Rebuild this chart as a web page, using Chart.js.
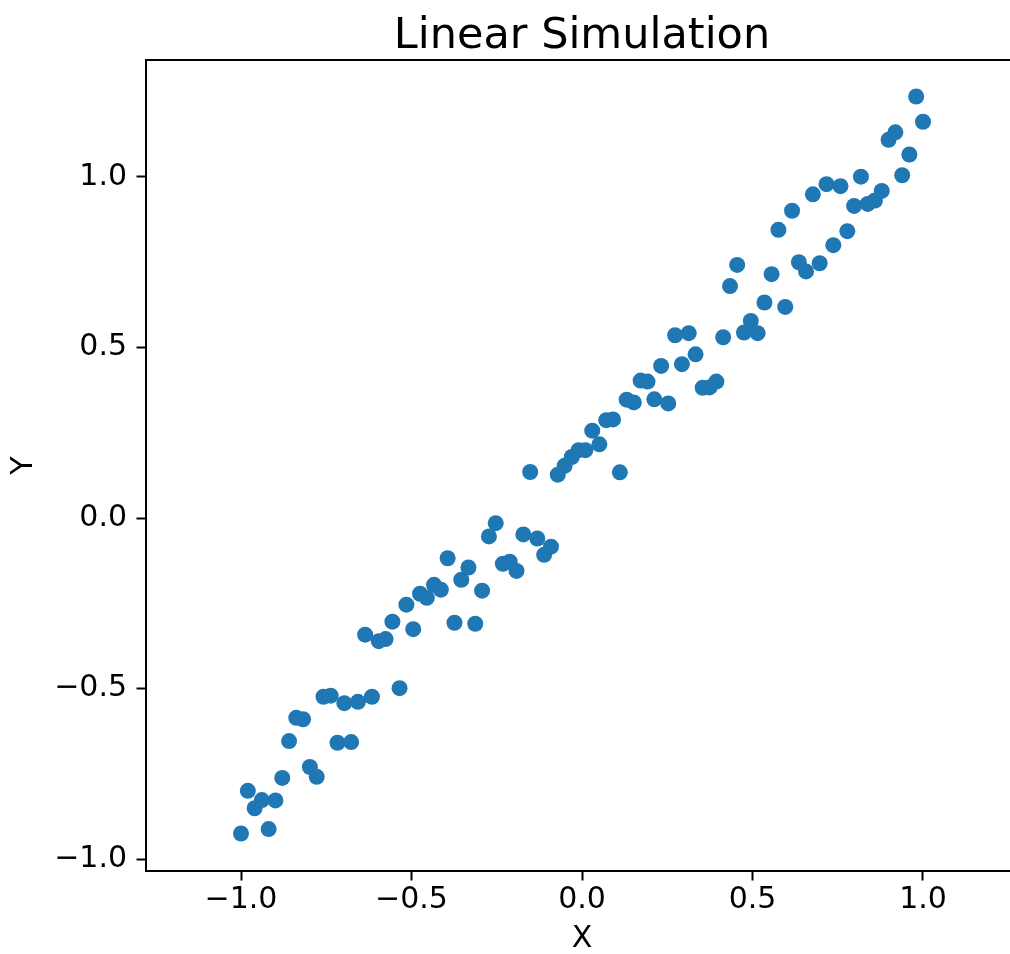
<!DOCTYPE html>
<html>
<head>
<meta charset="utf-8">
<script src="https://cdn.jsdelivr.net/npm/chart.js@4/dist/chart.umd.min.js"></script>
<style>
    html, body { margin: 0; padding: 0; background: #fff; overflow: hidden; }
</style>
</head>
<body>
<canvas id="scatterChart" width="1030" height="954"></canvas>
<script>
// x positions (evenly spaced from -1 to 1, 100 samples)
var xValues = [
    -1.000, -0.980, -0.960, -0.939, -0.919, -0.899, -0.879, -0.859, -0.838, -0.818,
    -0.798, -0.778, -0.758, -0.737, -0.717, -0.697, -0.677, -0.657, -0.636, -0.616,
    -0.596, -0.576, -0.556, -0.535, -0.515, -0.495, -0.475, -0.455, -0.434, -0.414,
    -0.394, -0.374, -0.354, -0.333, -0.313, -0.293, -0.273, -0.253, -0.232, -0.212,
    -0.192, -0.172, -0.152, -0.131, -0.111, -0.091, -0.071, -0.051, -0.030, -0.010,
    0.010, 0.030, 0.051, 0.071, 0.091, 0.111, 0.131, 0.152, 0.172, 0.192,
    0.212, 0.232, 0.253, 0.273, 0.293, 0.313, 0.333, 0.354, 0.374, 0.394,
    0.414, 0.434, 0.455, 0.475, 0.495, 0.515, 0.535, 0.556, 0.576, 0.596,
    0.616, 0.636, 0.657, 0.677, 0.697, 0.717, 0.737, 0.758, 0.778, 0.798,
    0.818, 0.838, 0.859, 0.879, 0.899, 0.919, 0.939, 0.960, 0.980, 1.000
];

// y values
var yValues = [
    -0.925, -0.800, -0.851, -0.827, -0.912, -0.828, -0.762, -0.654, -0.586, -0.590,
    -0.730, -0.759, -0.524, -0.521, -0.659, -0.543, -0.657, -0.539, -0.342, -0.524,
    -0.361, -0.355, -0.304, -0.499, -0.254, -0.326, -0.222, -0.234, -0.196, -0.210,
    -0.118, -0.307, -0.181, -0.145, -0.310, -0.213, -0.054, -0.015, -0.134, -0.128,
    -0.155, -0.048, 0.135, -0.060, -0.108, -0.084, 0.127, 0.153, 0.179, 0.199,
    0.199, 0.256, 0.216, 0.287, 0.289, 0.134, 0.347, 0.339, 0.403, 0.400,
    0.348, 0.446, 0.336, 0.536, 0.451, 0.542, 0.480, 0.382, 0.383, 0.400,
    0.530, 0.680, 0.742, 0.544, 0.578, 0.542, 0.632, 0.715, 0.845, 0.619,
    0.901, 0.750, 0.723, 0.949, 0.747, 0.979, 0.800, 0.973, 0.841, 0.915,
    1.001, 0.921, 0.931, 0.959, 1.109, 1.131, 1.005, 1.066, 1.236, 1.162
];

var xTicks = [-1.0, -0.5, 0.0, 0.5, 1.0];
var yTicks = [-1.0, -0.5, 0.0, 0.5, 1.0];

var FONT = "'DejaVu Sans', sans-serif";

function fmtTick(v) {
    var s = Math.abs(v).toFixed(1);
    return v < 0 ? '\u2212' + s : s;
}

// top / right spines (matplotlib style box)
var spinesPlugin = {
    id: 'spines',
    afterDraw: function (chart) {
        var a = chart.chartArea;
        var ctx = chart.ctx;
        ctx.save();
        ctx.strokeStyle = '#000';
        ctx.lineWidth = 2;
        ctx.beginPath();
        ctx.moveTo(a.left - 1, a.top);
        ctx.lineTo(a.right, a.top);
        ctx.lineTo(a.right, a.bottom);
        ctx.stroke();
        ctx.restore();
    }
};

var points = xValues.map(function (x, i) {
    return { x: x, y: yValues[i] };
});

var ctx = document.getElementById('scatterChart').getContext('2d');
new Chart(ctx, {
    type: 'scatter',
    data: {
        datasets: [{
            data: points,
            backgroundColor: '#1f77b4',
            borderWidth: 0,
            pointRadius: 8,
            pointHoverRadius: 8
        }]
    },
    options: {
        responsive: false,
        animation: false,
        layout: { padding: { top: 0, right: 12, bottom: 0, left: 0 } },
        plugins: {
            legend: { display: false },
            tooltip: { enabled: false },
            title: {
                display: true,
                fullSize: false, // centre over the plot area, not the canvas
                text: 'Linear Simulation',
                color: '#000',
                font: { family: FONT, size: 43, weight: 'normal', lineHeight: 1.0 },
                padding: { top: 15.5, bottom: 1.5 }
            }
        },
        scales: {
            x: {
                type: 'linear',
                min: -1.2786,
                max: 1.2786,
                afterBuildTicks: function (axis) {
                    axis.ticks = xTicks.map(function (v) { return { value: v }; });
                },
                afterFit: function (axis) { axis.height = 83; },
                ticks: {
                    color: '#000',
                    font: { family: FONT, size: 30 },
                    padding: 2,
                    maxRotation: 0,
                    callback: fmtTick
                },
                grid: {
                    drawOnChartArea: false,
                    drawTicks: true,
                    tickLength: 9.5,
                    tickWidth: 2,
                    tickColor: '#000'
                },
                border: { display: true, color: '#000', width: 2 },
                title: {
                    display: true,
                    text: 'X',
                    color: '#000',
                    font: { family: FONT, size: 30, lineHeight: 1 },
                    padding: { top: 0, bottom: 0 }
                }
            },
            y: {
                type: 'linear',
                min: -1.035,
                max: 1.343,
                afterBuildTicks: function (axis) {
                    axis.ticks = yTicks.map(function (v) { return { value: v }; });
                },
                afterFit: function (axis) { axis.width = 146; },
                ticks: {
                    color: '#000',
                    font: { family: FONT, size: 30 },
                    padding: 9.5,
                    callback: fmtTick
                },
                grid: {
                    drawOnChartArea: false,
                    drawTicks: true,
                    tickLength: 9.5,
                    tickWidth: 2,
                    tickColor: '#000'
                },
                border: { display: true, color: '#000', width: 2 },
                title: {
                    display: true,
                    text: 'Y',
                    color: '#000',
                    font: { family: FONT, size: 30, lineHeight: 1 },
                    padding: { top: 9, bottom: 0 }
                }
            }
        }
    },
    plugins: [spinesPlugin]
});
</script>
</body>
</html>
